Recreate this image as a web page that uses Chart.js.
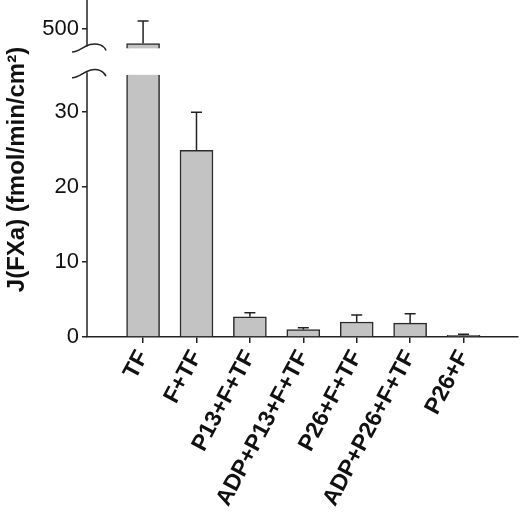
<!DOCTYPE html>
<html><head><meta charset="utf-8">
<script src="https://cdn.jsdelivr.net/npm/chart.js@4.4.1/dist/chart.umd.min.js"></script>
<style>html,body{margin:0;padding:0;background:#fff}canvas{display:block}</style>
</head><body>
<canvas id="c" width="520" height="514" style="width:520px;height:514px"></canvas>
<script>
const categories = ['TF','F+TF','P13+F+TF','ADP+P13+F+TF','P26+F+TF','ADP+P26+F+TF','P26+F'];
const means = [471, 24.9, 2.7, 1.0, 2.0, 1.85, 0.22];
const errors = [45, 5.1, 0.55, 0.22, 0.95, 1.25, 0.14];
const lowerTicks = [0, 10, 20, 30];
const upperTicks = [500];
const LOW_BREAK = 35.0;
const UP_BREAK = 461;

const FONT = 'Liberation Sans, Arial, sans-serif';
const INK = '#222';
const TICK_SIZE = 22;

const lowerData = categories.map((c, i) => ({x: i, y: Math.min(means[i], LOW_BREAK)}));
const upperData = categories.map((c, i) => means[i] > LOW_BREAK ? {x: i, y: [UP_BREAK, means[i]]} : null).filter(Boolean);

const barStyle = {
  grouped: false,
  barThickness: 33,
  backgroundColor: '#c3c3c3',
  borderColor: '#2a2a2a'
};

const errorBars = {
  id: 'errorBars',
  afterDatasetsDraw(chart) {
    const {ctx, scales} = chart;
    ctx.save();
    ctx.strokeStyle = INK; ctx.lineWidth = 1.5;
    means.forEach((m, i) => {
      const sc = m > LOW_BREAK ? scales.y2 : scales.y;
      const x = scales.x.getPixelForValue(i);
      const y0 = sc.getPixelForValue(m);
      const y1 = sc.getPixelForValue(m + errors[i]);
      ctx.beginPath();
      ctx.moveTo(x, y0); ctx.lineTo(x, y1);
      ctx.moveTo(x - 5.5, y1); ctx.lineTo(x + 5.5, y1);
      ctx.stroke();
    });
    ctx.restore();
  }
};

const brokenAxis = {
  id: 'brokenAxis',
  afterDraw(chart) {
    const {ctx, scales, chartArea} = chart;
    const ax = chartArea.left;
    const yLow = scales.y.getPixelForValue(LOW_BREAK) - 2.5;
    const yUp = scales.y2.getPixelForValue(UP_BREAK) - 2;
    ctx.save();
    ctx.strokeStyle = INK; ctx.lineWidth = 1.5;
    ctx.beginPath();
    ctx.moveTo(ax, scales.y.getPixelForValue(0));
    ctx.lineTo(ax, yLow);
    ctx.moveTo(ax, chartArea.top - 2);
    ctx.lineTo(ax, yUp);
    ctx.stroke();
    [yUp, yLow].forEach(yb => {
      ctx.beginPath();
      ctx.moveTo(ax - 15, yb + 5.5);
      ctx.bezierCurveTo(ax - 7, yb + 5.5, ax - 5, yb, ax + 3, yb - 2);
      ctx.bezierCurveTo(ax + 11, yb - 4, ax + 17, yb - 1, ax + 19, yb + 4);
      ctx.stroke();
    });
    ctx.restore();
  }
};

new Chart(document.getElementById('c'), {
  type: 'bar',
  data: {
    datasets: [
      Object.assign({data: lowerData, yAxisID: 'y', borderSkipped: 'start',
        borderWidth: ctx => means[ctx.dataIndex] > LOW_BREAK
          ? {top: 0, bottom: 0, left: 1.5, right: 1.5} : 1.5}, barStyle),
      Object.assign({data: upperData, yAxisID: 'y2', borderSkipped: 'start', borderWidth: 1.5}, barStyle)
    ]
  },
  options: {
    responsive: false,
    animation: false,
    layout: {padding: {top: 2, right: 2, left: 0, bottom: 0}},
    plugins: {legend: {display: false}, tooltip: {enabled: false}, colors: {enabled: false}},
    scales: {
      x: {
        type: 'linear', min: -1.05, max: 7.02, bounds: 'data', offset: false,
        afterBuildTicks: s => { s.ticks = categories.map((c, i) => ({value: i})); },
        ticks: {
          autoSkip: false, maxRotation: 62, minRotation: 62, padding: 3,
          callback: v => categories[v] ?? '',
          font: {family: FONT, size: 23, weight: 'bold'}, color: '#111'
        },
        grid: {drawOnChartArea: false, drawTicks: true, tickLength: 6, color: INK, lineWidth: 1.5, offset: false},
        border: {display: true, color: INK, width: 1.5},
        afterFit: s => { s.height = 177; }
      },
      y: {
        type: 'linear', position: 'left', weight: 1, min: 0, max: 44.7,
        afterBuildTicks: s => { s.ticks = lowerTicks.map(v => ({value: v})); },
        ticks: {font: {family: FONT, size: TICK_SIZE}, color: '#111', padding: 3},
        grid: {drawOnChartArea: false, drawTicks: true, tickLength: 5, color: INK, lineWidth: 1.5},
        border: {display: false},
        title: {
          display: true, text: 'J(FXa) (fmol/min/cm²)',
          font: {family: FONT, size: 24, weight: 'bold'}, color: '#111',
          padding: {top: 3, bottom: 0}
        },
        afterFit: s => { s.width = 87; s.paddingTop = 0; s.paddingBottom = 0; }
      },
      y2: {
        type: 'linear', position: 'left', weight: 0, min: -115.4, max: 554,
        afterBuildTicks: s => { s.ticks = upperTicks.map(v => ({value: v})); },
        ticks: {font: {family: FONT, size: TICK_SIZE}, color: '#111', mirror: true,
          padding: -(8 + 3 * 0.556 * TICK_SIZE)},
        grid: {drawOnChartArea: false, drawTicks: true, tickLength: 5, color: INK, lineWidth: 1.5},
        border: {display: false},
        afterFit: s => { s.width = 0; s.paddingTop = 0; s.paddingBottom = 0; }
      }
    }
  },
  plugins: [errorBars, brokenAxis]
});
</script>
</body></html>
